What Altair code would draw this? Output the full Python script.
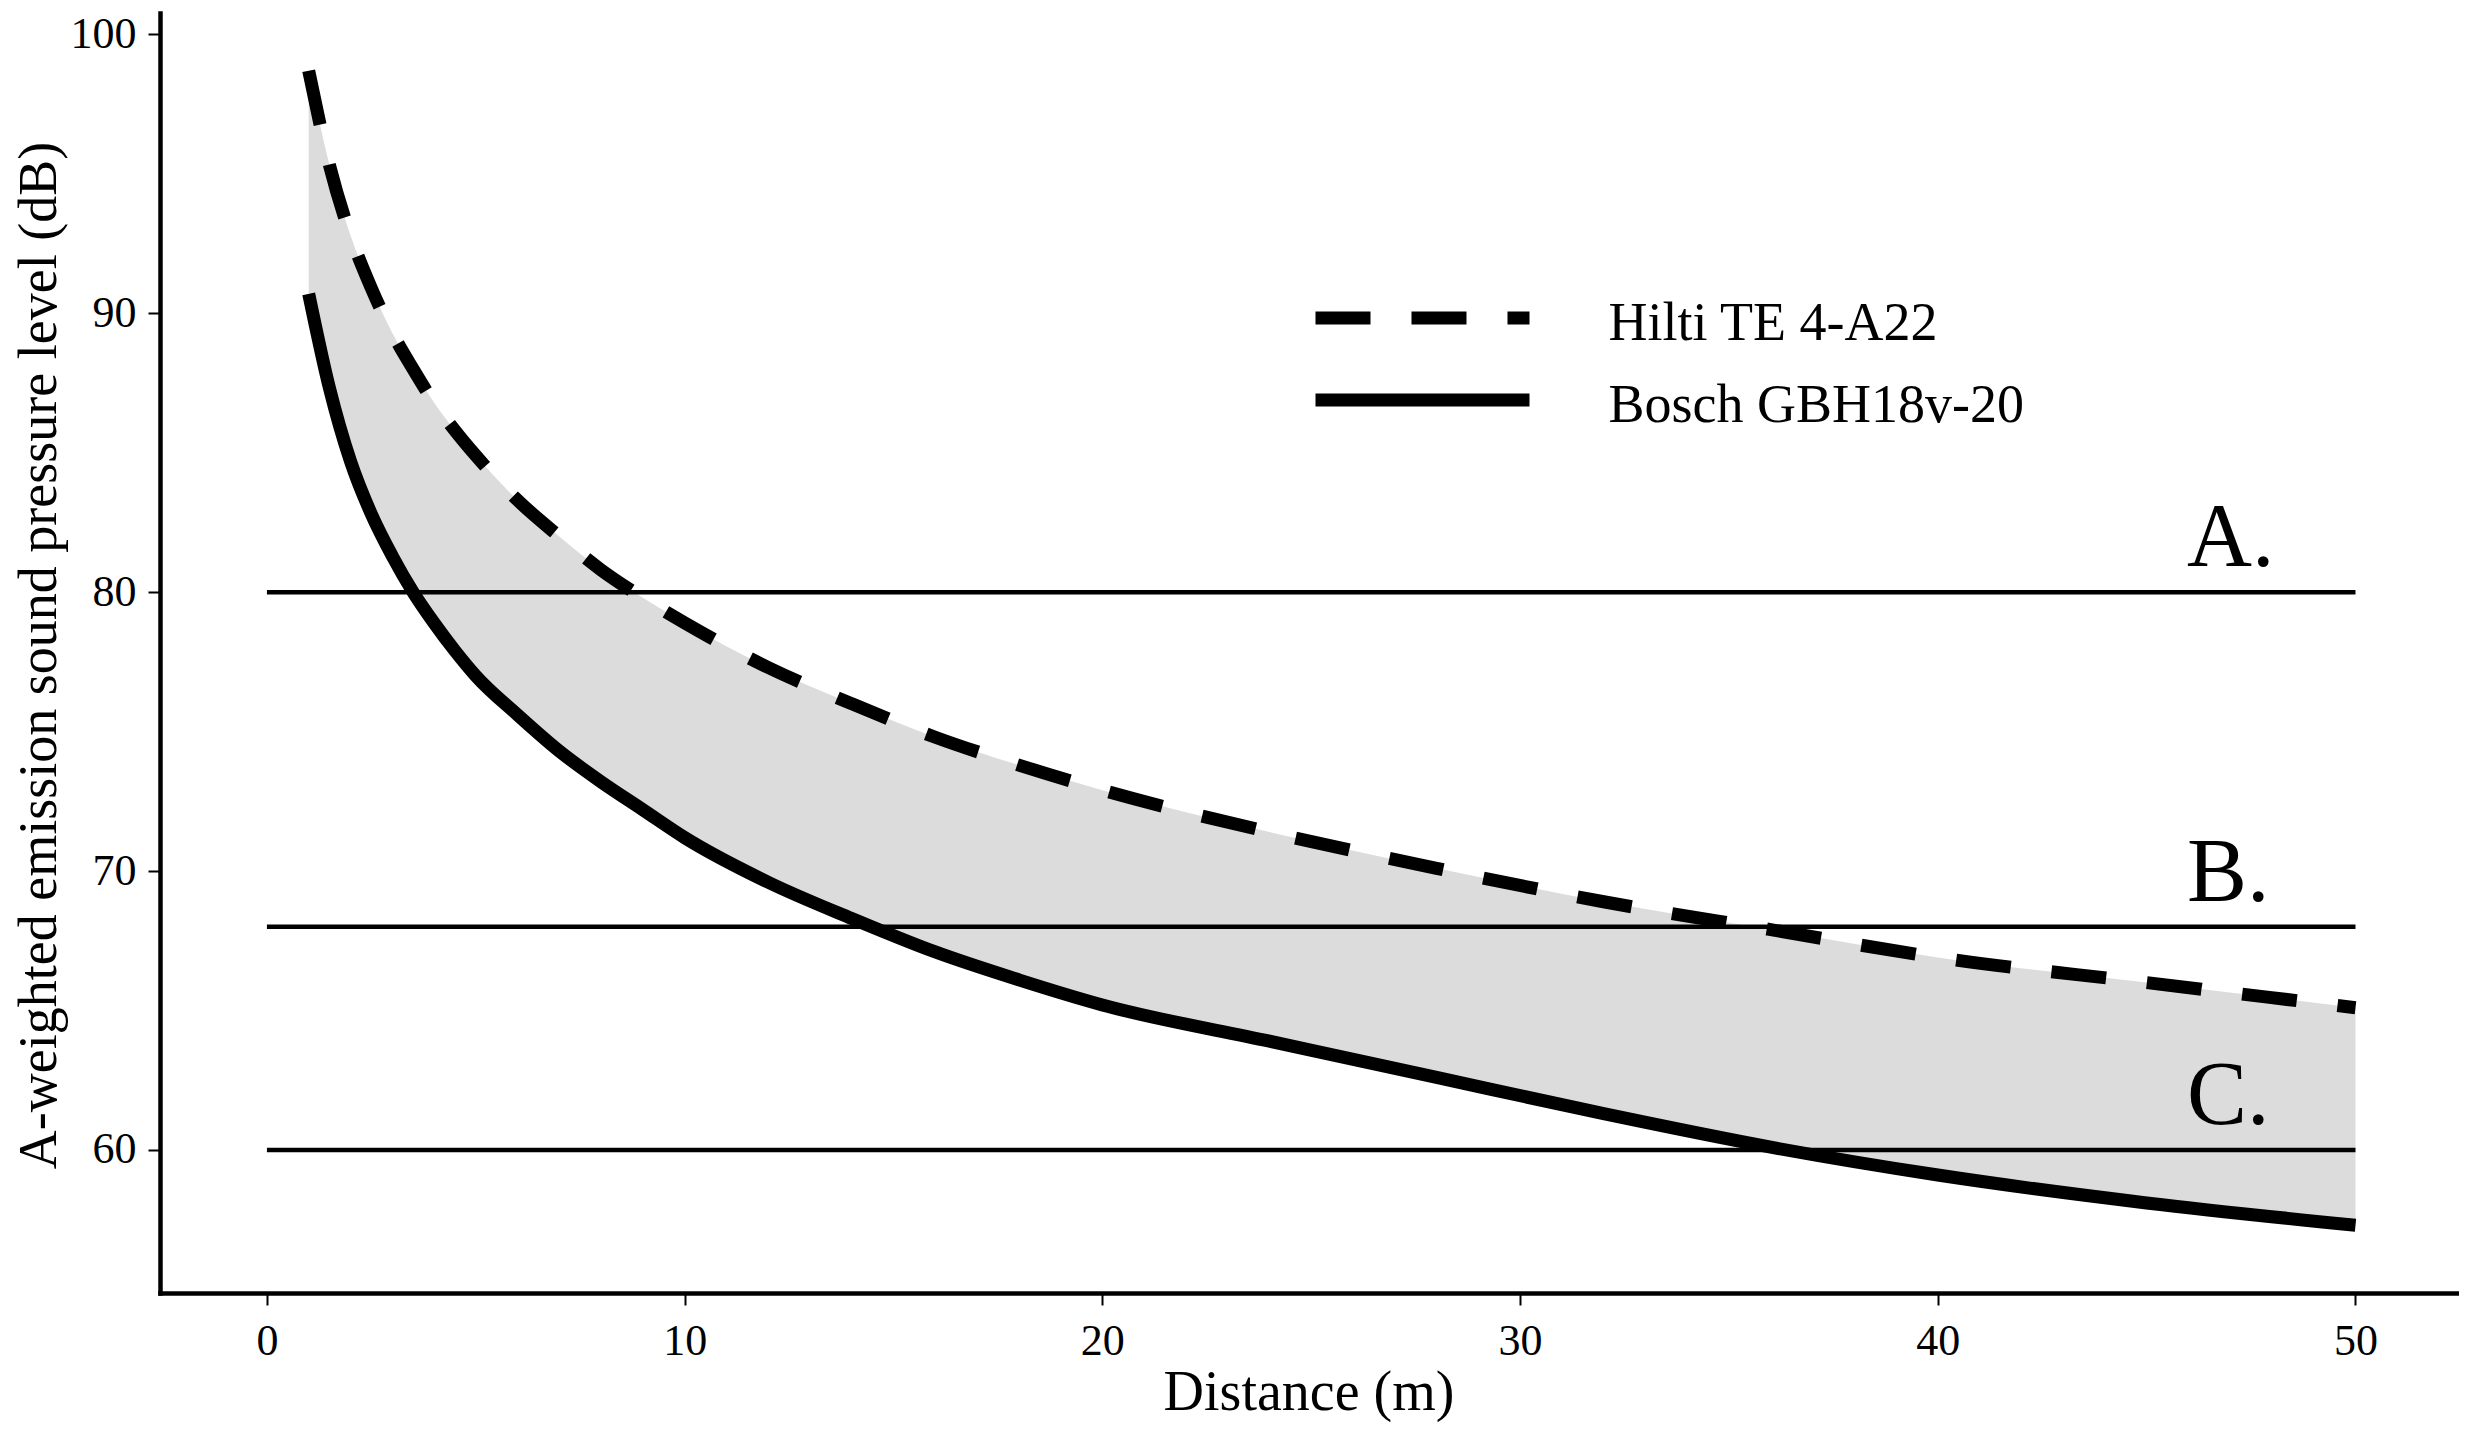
import altair as alt
import pandas as pd

# ---- data ----
distance = [1, 1.5, 2, 2.5, 3, 3.5, 4, 4.5, 5, 6, 7, 8, 9, 10, 12, 14, 16, 18, 20,
            24, 28, 32, 36, 40, 45, 50]
hilti = [98.7, 95.3, 92.8, 90.9, 89.3, 88.0, 86.8, 85.8, 84.9, 83.3, 82.0, 80.8, 79.8,
         78.9, 77.3, 76.0, 74.8, 73.8, 72.9, 71.4, 70.1, 68.9, 67.9, 66.9, 66.0, 65.1]
bosch = [90.7, 87.3, 84.7, 82.8, 81.3, 80.0, 78.9, 77.9, 77.0, 75.6, 74.3, 73.2, 72.2,
         71.2, 69.6, 68.3, 67.1, 66.1, 65.2, 63.9, 62.6, 61.3, 60.1, 59.1, 58.1, 57.3]

limit_labels = ["A.", "B.", "C."]
limit_values = [80, 68, 60]
limit_start = [0, 0, 0]
limit_end = [50, 50, 50]

series_names = ["Hilti TE 4-A22", "Bosch GBH18v-20"]
x_ticks = [0, 10, 20, 30, 40, 50]
y_ticks = [60, 70, 80, 90, 100]
x_title = "Distance (m)"
y_title = "A-weighted emission sound pressure level (dB)"

df = pd.DataFrame({"distance": distance, "hilti": hilti, "bosch": bosch})
lim = pd.DataFrame({"label": limit_labels, "value": limit_values,
                    "start": limit_start, "end": limit_end})
leg_h = pd.DataFrame({"name": [series_names[0]]})
leg_b = pd.DataFrame({"name": [series_names[1]]})

FONT = "Liberation Serif"
W, H = 2297, 1280
DASH = [55, 41]

xs = alt.Scale(domain=[-2.56, 52.43], nice=False, zero=False)
ys = alt.Scale(domain=[54.87, 100.77], nice=False, zero=False)

common_axis = dict(
    grid=False, format="d",
    labelFont=FONT, titleFont=FONT, labelColor="black", titleColor="black",
    titleFontWeight="normal", labelFontWeight="normal",
    domainColor="black", domainWidth=4.5, domainCap="square",
    tickColor="black", tickWidth=2, tickSize=12,
    labelFontSize=44,
)

x_axis = alt.Axis(values=x_ticks, title=x_title, labelPadding=14, titleFontSize=56,
                  titleY=99, titleBaseline="middle", **common_axis)
y_axis = alt.Axis(values=y_ticks, title=y_title, labelPadding=12, titleFontSize=54,
                  titleX=-121, titleY=642, titleBaseline="middle",
                  titleAngle=270, titleAlign="center", **common_axis)

X = alt.X("distance:Q", scale=xs, axis=x_axis)

area = alt.Chart(df).mark_area(color="#dcdcdc", interpolate="monotone").encode(
    x=X,
    y=alt.Y("hilti:Q", scale=ys, axis=y_axis),
    y2="bosch:Q",
)

limits = alt.Chart(lim).mark_rule(color="black", strokeWidth=4.5).encode(
    x=alt.X("start:Q", scale=xs, axis=x_axis),
    x2="end:Q",
    y=alt.Y("value:Q", scale=ys, axis=y_axis),
)

limit_text = alt.Chart(lim).mark_text(
    font=FONT, fontSize=90, align="left", baseline="alphabetic", dy=-26, color="black"
).encode(
    x=alt.value(2027),
    y=alt.Y("value:Q", scale=ys, axis=y_axis),
    text="label:N",
)

hilti_line = alt.Chart(df).mark_line(
    color="black", strokeWidth=13, strokeDash=DASH, interpolate="monotone"
).encode(x=X, y=alt.Y("hilti:Q", scale=ys, axis=y_axis))

bosch_line = alt.Chart(df).mark_line(
    color="black", strokeWidth=13, interpolate="monotone"
).encode(x=X, y=alt.Y("bosch:Q", scale=ys, axis=y_axis))

# manual legend
leg_sym_h = alt.Chart(leg_h).mark_rule(color="black", strokeWidth=13, strokeDash=DASH).encode(
    x=alt.value(1155.5), x2=alt.value(1369.5), y=alt.value(305))
leg_sym_b = alt.Chart(leg_b).mark_rule(color="black", strokeWidth=13).encode(
    x=alt.value(1155.5), x2=alt.value(1369.5), y=alt.value(387))
leg_txt_h = alt.Chart(leg_h).mark_text(
    font=FONT, fontSize=54, align="left", baseline="middle", color="black"
).encode(x=alt.value(1448.5), y=alt.value(311), text="name:N")
leg_txt_b = alt.Chart(leg_b).mark_text(
    font=FONT, fontSize=54, align="left", baseline="middle", color="black"
).encode(x=alt.value(1448.5), y=alt.value(393), text="name:N")

chart = alt.layer(
    area, limits, hilti_line, bosch_line, limit_text,
    leg_sym_h, leg_sym_b, leg_txt_h, leg_txt_b
).properties(
    width=W, height=H,
    background="white",
    autosize=alt.AutoSizeParams(type="none"),
    padding={"left": 152, "top": 5, "right": 2, "bottom": 130},
).configure_view(
    stroke=None
)

chart.save("out.html", embed_options={"renderer": "svg", "actions": False})
